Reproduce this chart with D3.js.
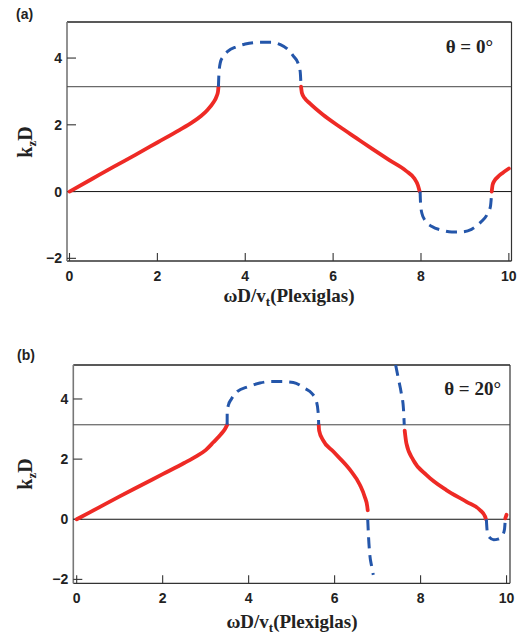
<!DOCTYPE html>
<html>
<head>
<meta charset="utf-8">
<script src="https://cdn.jsdelivr.net/npm/d3@7"></script>
<style>
  body { margin: 0; background: #fff; }
  svg { display: block; }
  .serif { font-family: 'Liberation Serif', 'Times New Roman', serif; font-weight: bold; }
  .sans { font-family: 'Liberation Sans', Arial, sans-serif; font-weight: bold; }
</style>
</head>
<body>
<svg id="chart" width="521" height="636"></svg>
<script>
// values: [omegaD/vt, kzD]
var xTicks = [0, 2, 4, 6, 8, 10];
var yTicks = [-2, 0, 2, 4];

// panel (a), theta = 0
var bandA1 = [[0,0],[0.5,0.37],[1,0.74],[1.5,1.1],[2,1.47],[2.5,1.84],[2.8,2.08],[3.0,2.27],[3.15,2.46],[3.27,2.66],[3.35,2.86],[3.38,3.0],[3.39,3.14]];
var gapA1 = [[3.39,3.14],[3.40,3.5],[3.43,3.85],[3.5,4.05],[3.6,4.2],[3.8,4.34],[4.0,4.42],[4.3,4.47],[4.6,4.47],[4.8,4.40],[5.0,4.22],[5.1,4.05],[5.2,3.85],[5.25,3.6],[5.27,3.14]];
var bandA2 = [[5.27,3.14],[5.29,2.95],[5.35,2.8],[5.47,2.64],[5.77,2.3],[6.15,1.94],[6.53,1.6],[6.9,1.27],[7.28,0.94],[7.66,0.62],[7.85,0.39],[7.93,0.19],[7.97,0]];
var gapA2 = [[7.98,0],[7.99,-0.35],[8.02,-0.65],[8.1,-0.88],[8.25,-1.05],[8.45,-1.15],[8.7,-1.21],[8.9,-1.21],[9.15,-1.13],[9.35,-0.93],[9.5,-0.7],[9.58,-0.45],[9.61,0]];
var bandA3 = [[9.61,0],[9.63,0.2],[9.67,0.32],[9.75,0.44],[9.85,0.55],[10,0.69]];

// panel (b), theta = 20
var bandB1 = [[0,0],[0.5,0.38],[1,0.76],[1.5,1.13],[2,1.5],[2.5,1.87],[2.79,2.1],[3.0,2.3],[3.18,2.56],[3.35,2.82],[3.45,3.0],[3.5,3.14]];
var gapB1 = [[3.5,3.14],[3.501,3.55],[3.53,3.8],[3.6,4.0],[3.73,4.24],[3.99,4.41],[4.26,4.53],[4.5,4.58],[4.77,4.58],[5.04,4.55],[5.31,4.35],[5.47,4.19],[5.58,3.9],[5.62,3.5],[5.63,3.14]];
var bandB2 = [[5.63,3.14],[5.64,2.95],[5.73,2.63],[5.97,2.25],[6.36,1.64],[6.59,1.14],[6.7,0.75],[6.76,0.42],[6.77,0.3]];
var gapB2 = [[6.77,0],[6.79,-0.6],[6.82,-1.2],[6.86,-1.55],[6.9,-1.85]];
var gapB3 = [[7.42,5.13],[7.48,4.7],[7.55,4.2],[7.6,3.7],[7.62,3.14]];
var bandB3 = [[7.63,2.95],[7.67,2.52],[7.83,1.97],[8.14,1.47],[8.6,0.97],[9.07,0.58],[9.38,0.31],[9.5,0.09],[9.52,0]];
var gapB4 = [[9.53,0],[9.55,-0.4],[9.6,-0.6],[9.7,-0.68],[9.8,-0.66],[9.9,-0.55],[9.95,-0.35],[9.97,0]];
var bandB4 = [[9.97,0.03],[10.0,0.15]];

var red = "#ee2a25", blue = "#2456aa";
var svg = d3.select("#chart");

function drawPanel(p) {
  var x = d3.scaleLinear().domain(p.xDom).range([p.left, p.right]);
  var y = d3.scaleLinear().domain(p.yDom).range([p.bottom, p.top]);
  var g = svg.append("g");

  // box
  g.append("line").attr("x1", p.left).attr("x2", p.right).attr("y1", p.top).attr("y2", p.top)
    .attr("stroke", "#222").attr("stroke-width", 1.3);
  g.append("line").attr("x1", p.left).attr("x2", p.right).attr("y1", p.bottom).attr("y2", p.bottom)
    .attr("stroke", "#333").attr("stroke-width", 1.3);
  g.append("line").attr("x1", p.right).attr("x2", p.right).attr("y1", p.top).attr("y2", p.bottom)
    .attr("stroke", "#333").attr("stroke-width", 1.2);
  g.append("line").attr("x1", p.left).attr("x2", p.left).attr("y1", p.top).attr("y2", p.bottom)
    .attr("stroke", "#777").attr("stroke-width", 1.6);

  // reference lines at 0 and pi
  [0, Math.PI].forEach(function(v) {
    g.append("line").attr("x1", p.left).attr("x2", p.right)
      .attr("y1", y(v)).attr("y2", y(v))
      .attr("stroke", v == 0 ? "#111" : "#444").attr("stroke-width", 1);
  });

  // inward ticks
  xTicks.forEach(function(t) {
    g.append("line").attr("x1", x(t)).attr("x2", x(t))
      .attr("y1", p.bottom).attr("y2", p.bottom - 8)
      .attr("stroke", "#333").attr("stroke-width", 1.1);
    g.append("text").attr("class", "sans").attr("x", x(t)).attr("y", p.bottom + 20)
      .attr("text-anchor", "middle").attr("font-size", 14).attr("fill", "#222")
      .text(t);
  });
  yTicks.forEach(function(t) {
    g.append("line").attr("x1", p.left).attr("x2", p.left + 9)
      .attr("y1", y(t)).attr("y2", y(t))
      .attr("stroke", "#333").attr("stroke-width", 1.1);
    g.append("text").attr("class", "sans").attr("x", p.left - 5).attr("y", y(t) + 5)
      .attr("text-anchor", "end").attr("font-size", 14).attr("fill", "#222")
      .text(t < 0 ? "\u2212" + Math.abs(t) : t);
  });

  var line = d3.line().x(function(d) { return x(d[0]); }).y(function(d) { return y(d[1]); })
    .curve(d3.curveMonotoneX);

  p.bands.forEach(function(b) {
    g.append("path").attr("d", line(b)).attr("fill", "none")
      .attr("stroke", red).attr("stroke-width", 3.8).attr("stroke-linecap", "round");
  });
  p.gaps.forEach(function(b) {
    g.append("path").attr("d", line(b)).attr("fill", "none")
      .attr("stroke", blue).attr("stroke-width", 3).attr("stroke-dasharray", "11,7");
  });

  // labels
  g.append("text").attr("class", "sans").attr("x", p.tagX).attr("y", p.tagY)
    .attr("font-size", 14).attr("fill", "#222").text(p.tag);

  g.append("text").attr("class", "serif").attr("x", p.thetaX).attr("y", p.thetaY)
    .attr("text-anchor", "end").attr("font-size", 19).attr("fill", "#222").text(p.theta);

  var yl = g.append("text").attr("class", "serif")
    .attr("transform", "translate(" + p.yLabX + "," + p.yLabY + ") rotate(-90)")
    .attr("text-anchor", "middle").attr("font-size", 20).attr("fill", "#222");
  yl.append("tspan").text("k");
  yl.append("tspan").attr("font-size", 13).attr("dy", 4).text("z");
  yl.append("tspan").attr("dy", -4).text("D");

  var xl = g.append("text").attr("class", "serif").attr("x", p.xLabX).attr("y", p.xLabY)
    .attr("text-anchor", "middle").attr("font-size", 19).attr("fill", "#222");
  xl.append("tspan").text("\u03c9D/v");
  xl.append("tspan").attr("font-size", 13).attr("dy", 4).text("t");
  xl.append("tspan").attr("dy", -4).text("(Plexiglas)");
}

drawPanel({
  left: 67, right: 511.5, top: 22, bottom: 261,
  xDom: [-0.057, 10.06], yDom: [-2.08, 5.08],
  bands: [bandA1, bandA2, bandA3], gaps: [gapA1, gapA2],
  tag: "(a)", tagX: 16, tagY: 19,
  theta: "\u03b8 = 0\u00b0", thetaX: 493, thetaY: 53,
  yLabX: 32, yLabY: 142, xLabX: 289, xLabY: 302
});

drawPanel({
  left: 73.3, right: 510, top: 365, bottom: 583.3,
  xDom: [-0.079, 10.08], yDom: [-2.13, 5.13],
  bands: [bandB1, bandB2, bandB3, bandB4], gaps: [gapB1, gapB2, gapB3, gapB4],
  tag: "(b)", tagX: 17, tagY: 360,
  theta: "\u03b8 = 20\u00b0", thetaX: 501, thetaY: 395,
  yLabX: 32, yLabY: 474, xLabX: 292, xLabY: 628
});
</script>
</body>
</html>
